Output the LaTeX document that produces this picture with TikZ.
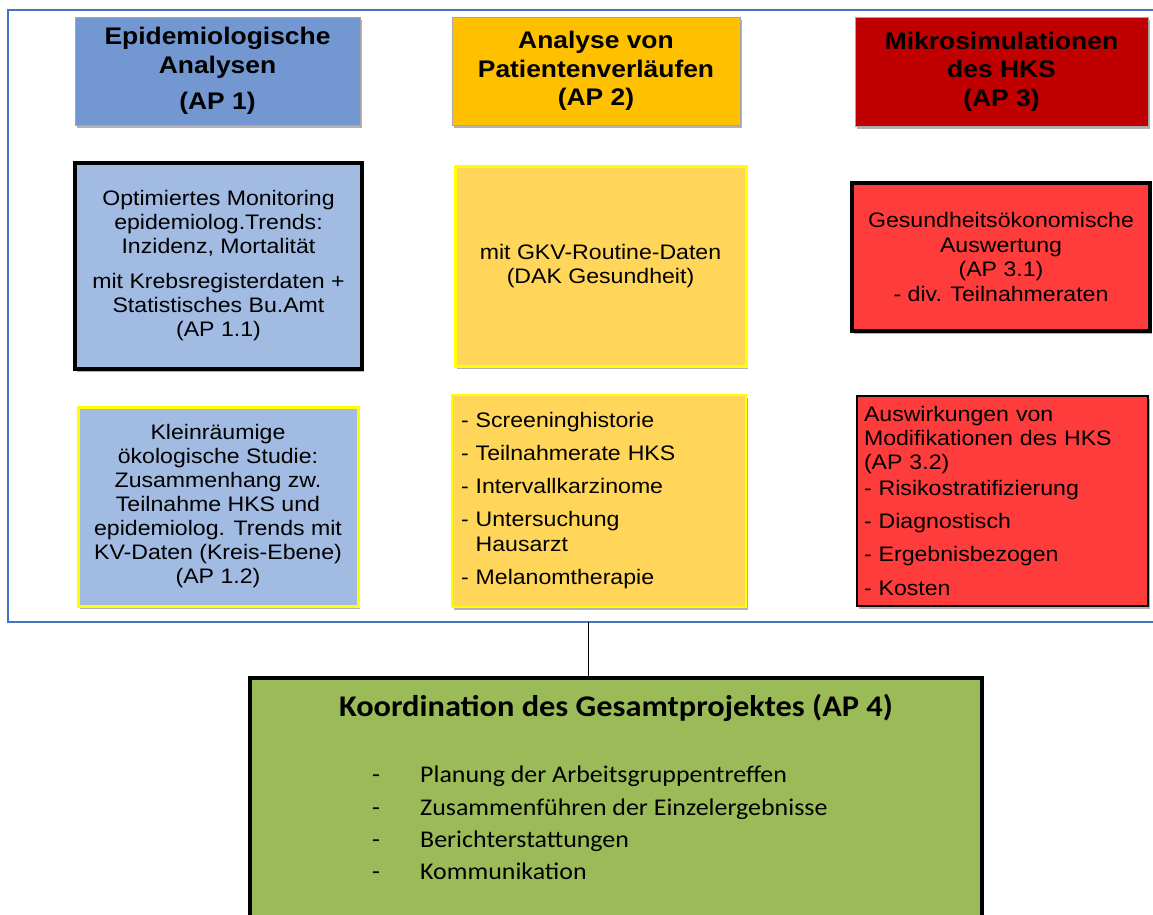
\documentclass[tikz,border=0pt]{standalone}
\usepackage{fontspec}
\setmainfont{Liberation Sans}[FakeStretch=1.1]
\newfontfamily\calib{Carlito}[FakeStretch=1.08]
\usetikzlibrary{shadows}
\definecolor{frameblue}{RGB}{68,114,196}
\definecolor{hdrblue}{RGB}{114,151,209}
\definecolor{lightblue}{RGB}{162,187,226}
\definecolor{hdrorange}{RGB}{255,192,0}
\definecolor{lightorange}{RGB}{255,214,90}
\definecolor{boxyellow}{RGB}{255,255,0}
\definecolor{hdrred}{RGB}{192,0,0}
\definecolor{boxred}{RGB}{255,60,60}
\definecolor{boxgreen}{RGB}{155,187,89}
\begin{document}
\begin{tikzpicture}[x=1pt,y=-1pt,
  shd/.style={drop shadow={shadow xshift=2pt,shadow yshift=-2.5pt,opacity=0.3,fill=black}},
  hdr/.style={draw=gray!70,line width=0.8pt,shd,inner sep=0pt,outer sep=0pt,align=center,
    font=\fontsize{24}{28.5}\selectfont\bfseries},
  wbox/.style={inner sep=0pt,outer sep=0pt,shd,align=center,font=\fontsize{21}{24}\selectfont},
  blackedge/.style={draw=black,line width=3.2pt},
  yellowedge/.style={draw=boxyellow,line width=3pt},
]
\useasboundingbox (0,0) rectangle (1153,914);
\clip (0,0) rectangle (1153,914);
\fill[white] (0,0) rectangle (1153,914);

% outer frame
\node[draw=frameblue,line width=1.6pt,minimum width=1160,minimum height=612,anchor=north west,inner sep=0pt,outer sep=0pt] (frame) at (8,10) {};

% headers
\node[hdr,fill=hdrblue,minimum width=285,minimum height=108] (h1) at (217.5,71)
  {Epidemiologische\\Analysen\\[8pt](AP 1)};
\node[hdr,fill=hdrorange,minimum width=288,minimum height=108] (h2) at (596,71)
  {Analyse von\\Patientenverläufen\\(AP 2)};
\node[hdr,fill=hdrred,minimum width=293,minimum height=109] (h3) at (1001.5,71.5)
  {Mikrosimulationen\\des HKS\\(AP 3)};

% column 1
\node[wbox,blackedge,fill=lightblue,minimum width=287,minimum height=206] (b11) at (218.5,266)
  {Optimiertes Monitoring\\epidemiolog.Trends:\\Inzidenz, Mortalität\\[11pt]mit Krebsregisterdaten +\\Statistisches Bu.Amt\\(AP 1.1)};
\node[wbox,yellowedge,fill=lightblue,minimum width=280,minimum height=199] (b12) at (218,506.5)
  {Kleinräumige\\ökologische Studie:\\Zusammenhang zw.\\Teilnahme HKS und\\epidemiolog. Trends mit\\KV-Daten (Kreis-Ebene)\\(AP 1.2)};

% column 2
\node[wbox,yellowedge,fill=lightorange,minimum width=291,minimum height=200] (b21) at (600.5,266)
  {mit GKV-Routine-Daten\\(DAK Gesundheit)};
\node[wbox,draw=boxyellow,line width=2pt,fill=lightorange,minimum width=294,minimum height=212,
  align=left,text width=276pt,inner xsep=9pt,font=\fontsize{21}{25}\selectfont] (b22) at (599,501)
  {- Screeninghistorie\\[8pt]- Teilnahmerate HKS\\[8pt]- Intervallkarzinome\\[8pt]- Untersuchung\\\phantom{- }Hausarzt\\[8pt]- Melanomtherapie};

% column 3
\node[wbox,blackedge,fill=boxred,minimum width=298,minimum height=148,font=\fontsize{21}{24.5}\selectfont] (b31) at (1001,257)
  {Gesundheitsökonomische\\Auswertung\\(AP 3.1)\\- div. Teilnahmeraten};
\node[wbox,draw=black,line width=2.5pt,fill=boxred,minimum width=291,minimum height=210,
  align=left,text width=277pt,inner xsep=7pt] (b32) at (1002.5,501)
  {Auswirkungen von\\Modifikationen des HKS\\(AP 3.2)\\[2pt]- Risikostratifizierung\\[9pt]- Diagnostisch\\[9pt]- Ergebnisbezogen\\[10pt]- Kosten};

% coordination box
\node[draw=black,line width=4pt,fill=boxgreen,minimum width=732,minimum height=252,inner sep=0pt,outer sep=0pt,shd] (green) at (616,804) {};
\node[font=\calib\bfseries\fontsize{30}{34}\selectfont,inner sep=0pt] (gtitle) at (616,708)
  {Koordination des Gesamtprojektes (AP 4)};
\node[font=\calib\fontsize{24}{32.3}\selectfont,align=left,inner sep=0pt,anchor=west] (glist) at (372,823)
  {\makebox[48pt][l]{-}Planung der Arbeitsgruppentreffen\\
   \makebox[48pt][l]{-}Zusammenführen der Einzelergebnisse\\
   \makebox[48pt][l]{-}Berichterstattungen\\
   \makebox[48pt][l]{-}Kommunikation};

% connector
\coordinate (c) at (588,622);
\draw[line width=0.8pt] (c) -- (c |- green.north);
\end{tikzpicture}
\end{document}
